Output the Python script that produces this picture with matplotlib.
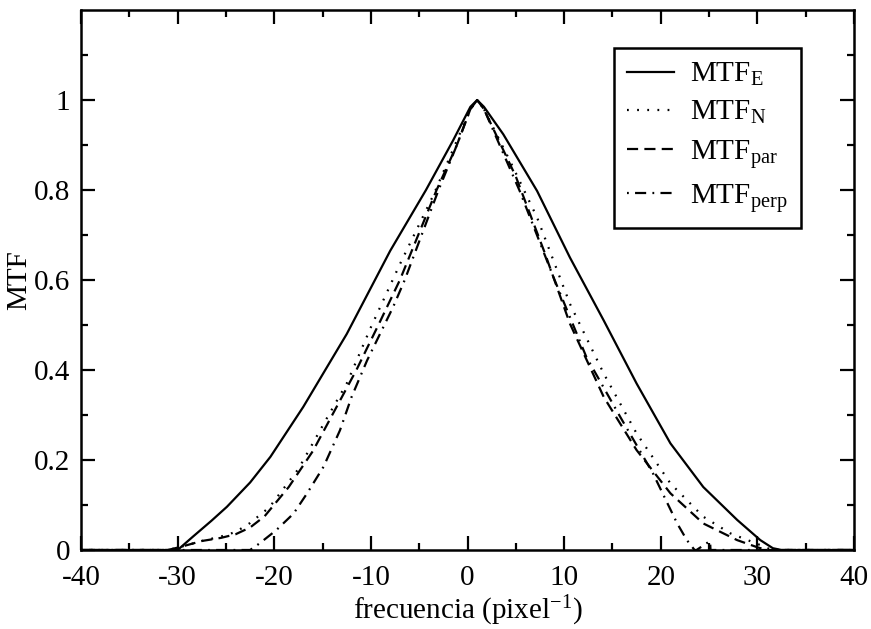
import matplotlib

matplotlib.use("Agg")
import matplotlib.pyplot as plt
from matplotlib.ticker import MultipleLocator, FixedLocator

plt.rcParams["font.family"] = ["Liberation Serif", "DejaVu Serif"]
plt.rcParams["mathtext.fontset"] = "custom"
plt.rcParams["mathtext.rm"] = "Liberation Serif"
plt.rcParams["mathtext.it"] = "Liberation Serif:italic"
plt.rcParams["lines.scale_dashes"] = False

# MTF curves, frequency in pixel^-1
freq_e = [-40, -30, -28.4, -26.5, -24.9, -22.5, -20.4, -17.0, -12.5, -8.0, -4.3,
          -1.5, 0.3, 1, 1.7, 3.7, 7.2, 10.6, 14.1, 17.5, 21.0, 24.4, 27.9, 30.3,
          31.6, 32.5, 40]
mtf_e = [0, 0, 0.03, 0.065, 0.096, 0.15, 0.207, 0.318, 0.48, 0.665, 0.8,
         0.91, 0.985, 1.0, 0.985, 0.924, 0.798, 0.65, 0.51, 0.37, 0.237, 0.14, 0.067, 0.022,
         0.004, 0, 0]

freq_n = [-40, -31, -29.5, -27.5, -25.5, -24, -22.5, -20.5, -17.5, -14.5, -12.5,
          -10, -7, -3.5, -1.3, 0.3, 1, 1.7, 4.5, 7.2, 10.6, 14.1, 17.5, 21.0,
          24.4, 27.2, 30.3, 31.5, 40]
mtf_n = [0, 0, 0.008, 0.02, 0.03, 0.04, 0.06, 0.095, 0.18, 0.295, 0.37,
         0.495, 0.635, 0.79, 0.9, 0.98, 1.0, 0.98, 0.86, 0.739, 0.547, 0.392, 0.259, 0.148,
         0.074, 0.037, 0.011, 0, 0]

freq_par = [-40, -31, -29.5, -27.5, -25.5, -24, -22.5, -21, -18.5, -16, -13.5,
            -11.5, -9, -7, -3.2, -1.1, 0.3, 1, 1.7, 5, 8, 10.6, 14.1, 17.5,
            21.0, 24.4, 27.9, 30, 31, 40]
mtf_par = [0, 0, 0.008, 0.02, 0.027, 0.035, 0.05, 0.075, 0.14, 0.22, 0.32,
           0.4, 0.51, 0.6, 0.8, 0.9, 0.98, 1.0, 0.98, 0.83, 0.66, 0.503, 0.34, 0.222,
           0.126, 0.059, 0.022, 0.006, 0, 0]

freq_perp = [-40, -22.5, -21.5, -19.8, -18.0, -16.6, -14.9, -13.2, -12.0, -10.4,
             -7.7, -6.5, -3.0, -1.1, 0.3, 1, 1.7, 5.4, 8.9, 12.3, 15.8, 19.2,
             21.7, 22.7, 23.5, 23.7, 25.1, 25.15, 40]
mtf_perp = [0, 0, 0.015, 0.044, 0.081, 0.126, 0.185, 0.266, 0.34, 0.421,
            0.54, 0.6, 0.8, 0.9, 0.98, 1.0, 0.98, 0.798, 0.606, 0.429, 0.296, 0.17,
            0.059, 0.022, 0, 0, 0.02, 0, 0]

x_ticks = [-40, -30, -20, -10, 0, 10, 20, 30, 40]
y_ticks = [0, 0.2, 0.4, 0.6, 0.8, 1.0]
y_tick_labels = ["0", "0.2", "0.4", "0.6", "0.8", "1"]


def main():
    fig = plt.figure(figsize=(8.71, 6.29), dpi=100)
    ax = fig.add_axes([0.093, 0.1256, 0.8875, 0.8584])

    lw = 1.6
    ax.plot(freq_e, mtf_e, color="black", lw=lw, linestyle="-",
            label=r"MTF$_{\mathrm{E}}$")
    ax.plot(freq_n, mtf_n, color="black", lw=lw, linestyle=(0, (1.3, 6.0)),
            label=r"MTF$_{\mathrm{N}}$")
    ax.plot(freq_par, mtf_par, color="black", lw=lw, linestyle=(0, (8.0, 4.5)),
            label=r"MTF$_{\mathrm{par}}$")
    ax.plot(freq_perp, mtf_perp, color="black", lw=lw,
            linestyle=(0, (1.3, 4.5, 8.0, 4.5)),
            label=r"MTF$_{\mathrm{perp}}$")

    ax.set_xlim(-40, 40)
    ax.set_ylim(0, 1.2)
    ax.set_xticks(x_ticks)
    ax.set_xticklabels([str(t) for t in x_ticks])
    ax.xaxis.set_minor_locator(MultipleLocator(5))
    ax.set_yticks(y_ticks)
    ax.set_yticklabels(y_tick_labels)
    ax.yaxis.set_minor_locator(FixedLocator([0.1, 0.3, 0.5, 0.7, 0.9, 1.1]))

    ax.tick_params(which="both", direction="in", top=True, right=True,
                   width=1.6, labelsize=21)
    ax.tick_params(axis="x", pad=11)
    ax.tick_params(axis="y", pad=8)
    ax.tick_params(which="major", length=10)
    ax.tick_params(which="minor", length=5)
    for spine in ax.spines.values():
        spine.set_linewidth(1.8)

    ax.set_xlabel(r"frecuencia (pixel$^{-1}$)", fontsize=21, labelpad=2)
    ax.set_ylabel("MTF", fontsize=21, labelpad=1)

    leg = ax.legend(loc="upper right", bbox_to_anchor=(0.931, 0.930),
                    borderaxespad=0, fontsize=21, handlelength=1.6,
                    handletextpad=0.55, labelspacing=0.38, borderpad=0.45,
                    fancybox=False, framealpha=1)
    leg.get_frame().set_edgecolor("black")
    leg.get_frame().set_linewidth(1.8)

    fig.savefig("out.png", dpi=100)


if __name__ == "__main__":
    main()
